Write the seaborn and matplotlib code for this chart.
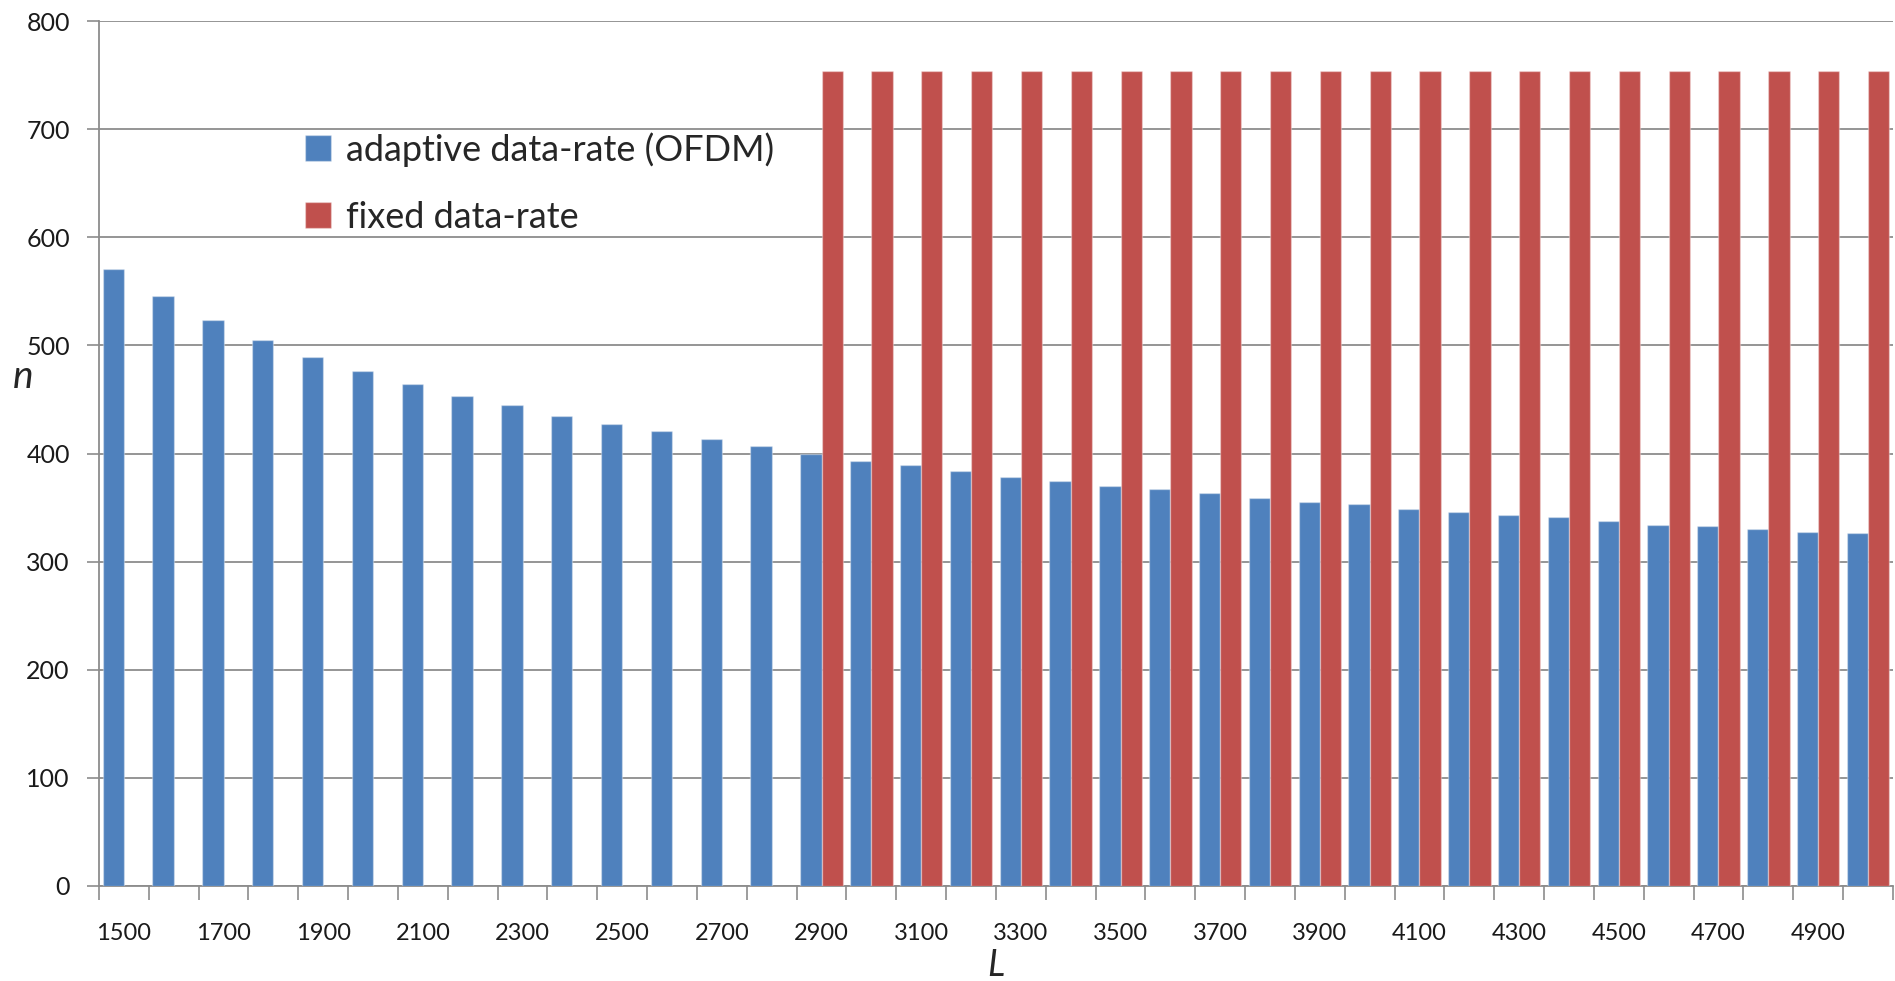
import numpy as np
import pandas as pd
import matplotlib
matplotlib.use("Agg")
import matplotlib.pyplot as plt
import seaborn as sns
from matplotlib.ticker import FixedLocator

# ---- data ----
L_values = [1500, 1600, 1700, 1800, 1900, 2000, 2100, 2200, 2300, 2400,
            2500, 2600, 2700, 2800, 2900, 3000, 3100, 3200, 3300, 3400,
            3500, 3600, 3700, 3800, 3900, 4000, 4100, 4200, 4300, 4400,
            4500, 4600, 4700, 4800, 4900, 5000]
adaptive = [571, 546, 524, 505, 489, 476, 464, 453, 445, 435,
            427, 421, 413, 407, 400, 393, 389, 384, 378, 375,
            370, 367, 363, 359, 355, 353, 349, 346, 343, 341,
            338, 334, 333, 330, 327, 326]
fixed = [np.nan, np.nan, np.nan, np.nan, np.nan, np.nan, np.nan, np.nan, np.nan, np.nan,
         np.nan, np.nan, np.nan, np.nan, 754, 754, 754, 754, 754, 754,
         754, 754, 754, 754, 754, 754, 754, 754, 754, 754,
         754, 754, 754, 754, 754, 754]
series_names = ["adaptive data-rate (OFDM)", "fixed data-rate"]
y_ticks = [0, 100, 200, 300, 400, 500, 600, 700, 800]

df = pd.DataFrame({
    "L": [str(v) for v in L_values] * 2,
    "n": adaptive + fixed,
    "series": [series_names[0]] * len(L_values) + [series_names[1]] * len(L_values),
})

sns.set_theme(style="white")
plt.rcParams["font.family"] = ["Lato", "DejaVu Sans"]

fig = plt.figure(figsize=(18.95, 9.81), dpi=100)
ax = fig.add_axes([0.0522, 0.0971, 0.9467, 0.8812])

palette = {series_names[0]: "#4F81BD", series_names[1]: "#C0504D"}
sns.barplot(data=df, x="L", y="n", hue="series", hue_order=series_names,
            order=[str(v) for v in L_values], palette=palette,
            width=0.85, dodge=True, saturation=1, ax=ax,
            edgecolor=(1, 1, 1, 0.35), linewidth=1.0, zorder=3)

ax.set_xlim(-0.5, len(L_values) - 0.5)
ax.set_ylim(0, 800)
ax.set_yticks(y_ticks)
ax.set_yticklabels([str(t) for t in y_ticks])
ax.yaxis.grid(True, color="#8C8C8C", linewidth=1.3, zorder=0)
ax.set_axisbelow(True)

major = list(range(0, len(L_values), 2))
ax.set_xticks(major)
ax.set_xticklabels([str(L_values[i]) for i in major])
ax.xaxis.set_minor_locator(FixedLocator(np.arange(-0.5, len(L_values), 1.0)))
ax.tick_params(axis="x", which="major", length=0, pad=27, labelsize=17, colors="#1a1a1a")
ax.tick_params(axis="x", which="minor", length=10, width=1.2, color="#8C8C8C", bottom=True)
ax.tick_params(axis="y", which="major", length=9, width=1.2, color="#8C8C8C", pad=12,
               labelsize=18, left=True)
for lab in ax.get_yticklabels():
    lab.set_color("#1a1a1a")

for s in ["top", "right"]:
    ax.spines[s].set_visible(False)
for s in ["left", "bottom"]:
    ax.spines[s].set_color("#8C8C8C")
    ax.spines[s].set_linewidth(1.3)

ax.set_xlabel("L", fontsize=26, fontstyle="italic")
ax.xaxis.set_label_coords(0.5, -0.073)
ax.set_ylabel("n", fontsize=28, fontstyle="italic", rotation=0)
ax.yaxis.set_label_coords(-0.042, 0.568)

handles, labels = ax.get_legend_handles_labels()
leg = ax.legend(handles, labels, loc="upper left", bbox_to_anchor=(0.115, 0.872),
                frameon=False, fontsize=26, handlelength=0.72, handleheight=0.72,
                handletextpad=0.4, labelspacing=0.95, borderaxespad=0, borderpad=0)

fig.savefig("out.png", dpi=100)
